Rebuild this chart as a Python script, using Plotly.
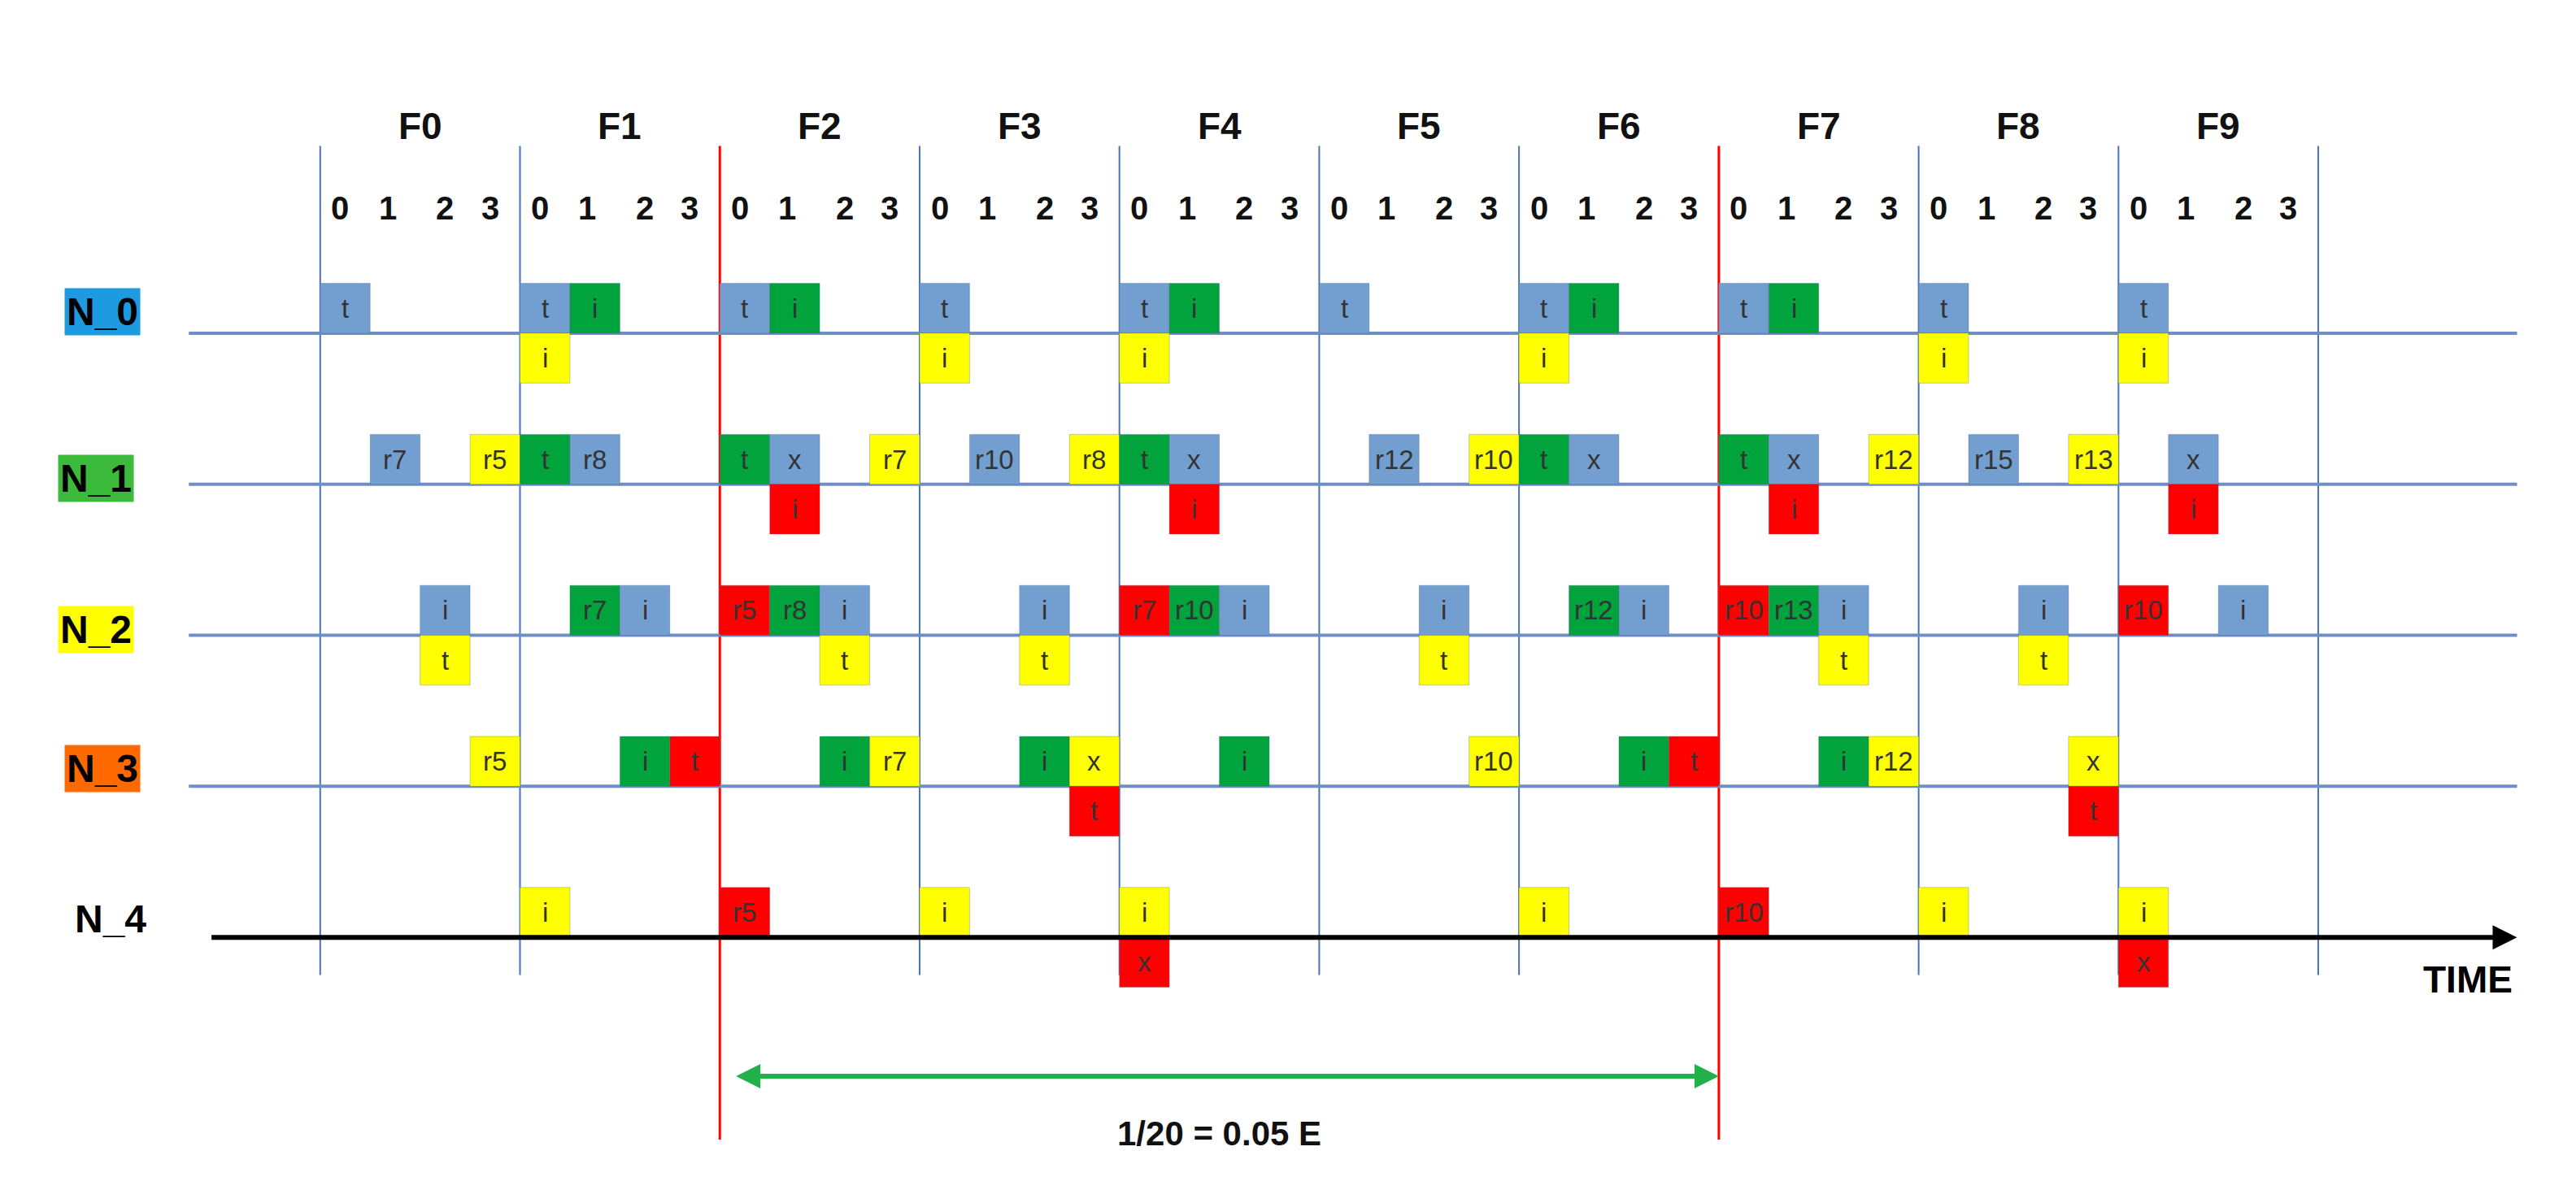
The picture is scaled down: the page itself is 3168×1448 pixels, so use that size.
import plotly.graph_objects as go

# frame / slot layout
frames = ['F0', 'F1', 'F2', 'F3', 'F4', 'F5', 'F6', 'F7', 'F8', 'F9']
slot_labels = ['0', '1', '2', '3']
slot_offsets = [0.4, 1.35, 2.5, 3.4]
red_frames = [2, 7]

rows = ['N_0', 'N_1', 'N_2', 'N_3', 'N_4']
row_bg = ['#1e9be0', '#3cba3c', '#ffff00', '#ff6a00', 'rgba(0,0,0,0)']

COL = {'b': '#729fcf', 'g': '#00a33c', 'y': '#ffff00', 'r': '#ff0000'}

# boxes per row: (frame, slot, side 'a'bove/'b'elow, colour, label)
n0_boxes = [(0, 0, 'a', 'b', 't'), (1, 0, 'a', 'b', 't'), (1, 1, 'a', 'g', 'i'), (1, 0, 'b', 'y', 'i'),
            (2, 0, 'a', 'b', 't'), (2, 1, 'a', 'g', 'i'), (3, 0, 'a', 'b', 't'), (3, 0, 'b', 'y', 'i'),
            (4, 0, 'a', 'b', 't'), (4, 1, 'a', 'g', 'i'), (4, 0, 'b', 'y', 'i'), (5, 0, 'a', 'b', 't'),
            (6, 0, 'a', 'b', 't'), (6, 1, 'a', 'g', 'i'), (6, 0, 'b', 'y', 'i'),
            (7, 0, 'a', 'b', 't'), (7, 1, 'a', 'g', 'i'), (8, 0, 'a', 'b', 't'), (8, 0, 'b', 'y', 'i'),
            (9, 0, 'a', 'b', 't'), (9, 0, 'b', 'y', 'i')]
n1_boxes = [(0, 1, 'a', 'b', 'r7'), (0, 3, 'a', 'y', 'r5'), (1, 0, 'a', 'g', 't'), (1, 1, 'a', 'b', 'r8'),
            (2, 0, 'a', 'g', 't'), (2, 1, 'a', 'b', 'x'), (2, 1, 'b', 'r', 'i'), (2, 3, 'a', 'y', 'r7'),
            (3, 1, 'a', 'b', 'r10'), (3, 3, 'a', 'y', 'r8'),
            (4, 0, 'a', 'g', 't'), (4, 1, 'a', 'b', 'x'), (4, 1, 'b', 'r', 'i'),
            (5, 1, 'a', 'b', 'r12'), (5, 3, 'a', 'y', 'r10'), (6, 0, 'a', 'g', 't'), (6, 1, 'a', 'b', 'x'),
            (7, 0, 'a', 'g', 't'), (7, 1, 'a', 'b', 'x'), (7, 1, 'b', 'r', 'i'), (7, 3, 'a', 'y', 'r12'),
            (8, 1, 'a', 'b', 'r15'), (8, 3, 'a', 'y', 'r13'), (9, 1, 'a', 'b', 'x'), (9, 1, 'b', 'r', 'i')]
n2_boxes = [(0, 2, 'a', 'b', 'i'), (0, 2, 'b', 'y', 't'), (1, 1, 'a', 'g', 'r7'), (1, 2, 'a', 'b', 'i'),
            (2, 0, 'a', 'r', 'r5'), (2, 1, 'a', 'g', 'r8'), (2, 2, 'a', 'b', 'i'), (2, 2, 'b', 'y', 't'),
            (3, 2, 'a', 'b', 'i'), (3, 2, 'b', 'y', 't'),
            (4, 0, 'a', 'r', 'r7'), (4, 1, 'a', 'g', 'r10'), (4, 2, 'a', 'b', 'i'),
            (5, 2, 'a', 'b', 'i'), (5, 2, 'b', 'y', 't'), (6, 1, 'a', 'g', 'r12'), (6, 2, 'a', 'b', 'i'),
            (7, 0, 'a', 'r', 'r10'), (7, 1, 'a', 'g', 'r13'), (7, 2, 'a', 'b', 'i'), (7, 2, 'b', 'y', 't'),
            (8, 2, 'a', 'b', 'i'), (8, 2, 'b', 'y', 't'), (9, 0, 'a', 'r', 'r10'), (9, 2, 'a', 'b', 'i')]
n3_boxes = [(0, 3, 'a', 'y', 'r5'), (1, 2, 'a', 'g', 'i'), (1, 3, 'a', 'r', 't'),
            (2, 2, 'a', 'g', 'i'), (2, 3, 'a', 'y', 'r7'),
            (3, 2, 'a', 'g', 'i'), (3, 3, 'a', 'y', 'x'), (3, 3, 'b', 'r', 't'),
            (4, 2, 'a', 'g', 'i'), (5, 3, 'a', 'y', 'r10'), (6, 2, 'a', 'g', 'i'), (6, 3, 'a', 'r', 't'),
            (7, 2, 'a', 'g', 'i'), (7, 3, 'a', 'y', 'r12'), (8, 3, 'a', 'y', 'x'), (8, 3, 'b', 'r', 't')]
n4_boxes = [(1, 0, 'a', 'y', 'i'), (2, 0, 'a', 'r', 'r5'), (3, 0, 'a', 'y', 'i'),
            (4, 0, 'a', 'y', 'i'), (4, 0, 'b', 'r', 'x'), (6, 0, 'a', 'y', 'i'),
            (7, 0, 'a', 'r', 'r10'), (8, 0, 'a', 'y', 'i'), (9, 0, 'a', 'y', 'i'), (9, 0, 'b', 'r', 'x')]
all_boxes = [n0_boxes, n1_boxes, n2_boxes, n3_boxes, n4_boxes]

BOX_H = 0.33
FONT = 'Liberation Sans'

fig = go.Figure()
shapes, annots = [], []

# vertical frame lines
for f in range(len(frames) + 1):
    red = f in red_frames
    shapes.append(dict(type='line', x0=4 * f, x1=4 * f, y0=1.24, y1=-5.34 if red else -4.25,
                       line=dict(color='#ff0000' if red else '#4a72b8', width=3 if red else 2), layer='below'))

# row lines
for r in range(4):
    shapes.append(dict(type='line', x0=-2.63, x1=43.98, y0=-r, y1=-r,
                       line=dict(color='#6f8fc4', width=4), layer='below'))
annots.append(dict(x=43.98, y=-4, ax=-2.2, ay=-4, xref='x', yref='y', axref='x', ayref='y', text='',
                   showarrow=True, arrowhead=2, arrowsize=1, arrowwidth=6, arrowcolor='black'))

# boxes
for r, boxes in enumerate(all_boxes):
    for f, s, side, c, lab in boxes:
        x0 = 4 * f + s
        y0 = -r if side == 'a' else -r - BOX_H
        shapes.append(dict(type='rect', x0=x0, x1=x0 + 1, y0=y0, y1=y0 + BOX_H,
                           fillcolor=COL[c], line=dict(color='rgba(80,100,140,0.35)', width=1)))
        annots.append(dict(x=x0 + 0.5, y=y0 + BOX_H / 2, text=lab, showarrow=False,
                           font=dict(family=FONT, size=33, color='#333333')))

# frame and slot labels
for f, name in enumerate(frames):
    annots.append(dict(x=4 * f + 2, y=1.37, text='<b>%s</b>' % name, showarrow=False,
                       font=dict(family=FONT, size=46, color='#111111')))
    for lab, off in zip(slot_labels, slot_offsets):
        annots.append(dict(x=4 * f + off, y=0.83, text='<b>%s</b>' % lab, showarrow=False,
                           font=dict(family=FONT, size=40, color='#111111')))

# row labels
row_x = [-4.36, -4.49, -4.49, -4.36, -4.2]
row_y = [0.14, -0.96, -1.96, -2.88, -3.88]
for name, bg, x, y in zip(rows, row_bg, row_x, row_y):
    annots.append(dict(x=x, y=y, text='<b>%s</b>' % name, showarrow=False, bgcolor=bg, borderpad=2,
                       font=dict(family=FONT, size=48, color='black')))

annots.append(dict(x=43.0, y=-4.28, text='<b>TIME</b>', showarrow=False,
                   font=dict(family=FONT, size=46, color='black')))

# green span arrow
annots.append(dict(x=28, y=-4.92, ax=8.3, ay=-4.92, xref='x', yref='y', axref='x', ayref='y', text='',
                   showarrow=True, arrowhead=2, startarrowhead=2, arrowside='end+start',
                   arrowsize=1, arrowwidth=6, arrowcolor='#22b04a'))
annots.append(dict(x=18, y=-5.3, text='<b>1/20 = 0.05 E</b>', showarrow=False,
                   font=dict(family=FONT, size=42, color='#111111')))

fig.update_layout(width=3168, height=1448, margin=dict(l=0, r=0, t=0, b=0),
                  plot_bgcolor='white', paper_bgcolor='white', showlegend=False,
                  shapes=shapes, annotations=annots,
                  xaxis=dict(range=[-6.28, 45.29], visible=False),
                  yaxis=dict(range=[-5.63, 2.163], visible=False))

fig.write_html('out.html')
